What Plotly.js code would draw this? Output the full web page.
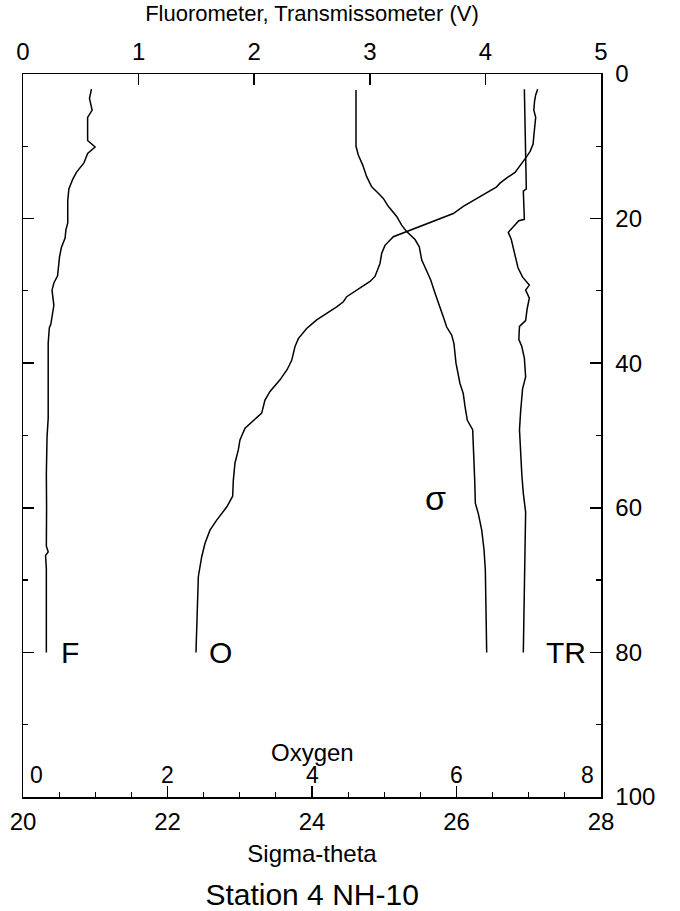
<!DOCTYPE html>
<html>
<head>
<meta charset="utf-8">
<script src="https://cdn.plot.ly/plotly-3.0.1.min.js"></script>
<style>
  html, body { margin: 0; padding: 0; background: #ffffff; }
  #chart { width: 680px; height: 911px; }
</style>
</head>
<body>
<div id="chart"></div>
<script>
// ---------- data ----------
// Fluorometer (V) vs depth (m)
const fDepth = [2.1, 3.4, 5.0, 6.0, 7.6, 9.2, 10.1, 11.0, 12.3, 13.6, 14.6, 15.9, 17.5, 20.6, 21.6, 22.7, 24.0, 25.3, 27.9, 28.9, 29.9, 32.0, 34.6, 35.1, 37.2, 42.0, 47.6, 50.2, 55.4, 60.0, 65.3, 66.1, 66.6, 68.4, 74.0, 80.0];
const fVolt  = [0.592, 0.575, 0.598, 0.559, 0.559, 0.559, 0.624, 0.559, 0.527, 0.462, 0.429, 0.397, 0.387, 0.387, 0.371, 0.364, 0.332, 0.316, 0.299, 0.267, 0.251, 0.267, 0.241, 0.228, 0.218, 0.220, 0.218, 0.208, 0.202, 0.204, 0.202, 0.218, 0.195, 0.202, 0.204, 0.202];

// Transmissometer (V) vs depth (m)
const trDepth = [2.1, 11.2, 15.9, 16.2, 18.5, 20.1, 20.3, 21.9, 22.9, 25.3, 26.8, 28.1, 28.9, 29.2, 29.9, 31.0, 32.5, 34.1, 34.9, 36.7, 37.7, 39.3, 41.9, 43.5, 46.6, 49.2, 55.4, 58.0, 60.6, 65.8, 71.0, 76.2, 80.0];
const trVolt  = [4.337, 4.344, 4.354, 4.328, 4.337, 4.337, 4.289, 4.198, 4.224, 4.256, 4.282, 4.322, 4.361, 4.380, 4.348, 4.380, 4.361, 4.348, 4.295, 4.289, 4.315, 4.337, 4.348, 4.322, 4.305, 4.295, 4.315, 4.328, 4.348, 4.341, 4.337, 4.331, 4.328];

// Oxygen vs depth (m)
const oDepth = [2.1, 2.9, 3.7, 5.0, 6.0, 7.1, 8.6, 9.7, 10.7, 11.5, 12.5, 13.6, 14.3, 15.1, 15.6, 17.0, 18.3, 19.3, 20.2, 20.9, 21.8, 22.5, 23.7, 24.8, 26.2, 28.0, 28.7, 29.6, 30.8, 31.5, 32.2, 33.1, 34.0, 35.2, 36.6, 37.7, 39.6, 40.9, 42.3, 43.9, 45.1, 46.9, 47.9, 49.0, 50.6, 52.0, 53.8, 56.2, 58.4, 59.9, 61.7, 63.1, 64.9, 66.8, 69.5, 73.2, 76.9, 80.0];
const oxygen = [7.123, 7.096, 7.081, 7.070, 7.096, 7.081, 7.070, 7.060, 7.019, 6.966, 6.888, 6.810, 6.706, 6.602, 6.556, 6.325, 6.094, 5.956, 5.726, 5.541, 5.310, 5.126, 5.010, 4.965, 4.941, 4.872, 4.803, 4.664, 4.480, 4.434, 4.342, 4.203, 4.065, 3.926, 3.811, 3.765, 3.719, 3.655, 3.557, 3.419, 3.349, 3.304, 3.188, 3.073, 3.003, 2.980, 2.934, 2.911, 2.902, 2.819, 2.681, 2.588, 2.519, 2.473, 2.427, 2.413, 2.404, 2.394];

// Sigma-theta vs depth (m)
const sDepth = [2.2, 10.0, 11.2, 12.6, 14.2, 15.6, 16.5, 17.2, 18.3, 19.7, 20.9, 21.8, 22.9, 23.9, 25.7, 27.3, 28.5, 30.3, 32.2, 33.6, 35.0, 36.1, 37.3, 40.0, 42.8, 44.2, 46.0, 47.9, 49.2, 52.5, 56.2, 59.4, 60.8, 63.1, 65.8, 68.6, 73.2, 80.0];
const sigma  = [24.609, 24.609, 24.641, 24.702, 24.757, 24.826, 24.918, 24.987, 25.056, 25.172, 25.241, 25.310, 25.426, 25.485, 25.518, 25.587, 25.643, 25.702, 25.772, 25.818, 25.864, 25.933, 25.965, 25.993, 26.048, 26.094, 26.118, 26.150, 26.224, 26.242, 26.252, 26.261, 26.302, 26.349, 26.381, 26.399, 26.408, 26.418];

// tick labels
const sigmaTicks = [20, 22, 24, 26, 28];
const voltTicks  = [0, 1, 2, 3, 4, 5];
const oxyTicks   = [0, 2, 4, 6, 8];
const depthTicks = [0, 20, 40, 60, 80, 100];

// curve labels
const curveNames = ['F', 'O', 'σ', 'TR'];

// ---------- drawing ----------
const FONT = 'Liberation Sans, Arial, Helvetica, sans-serif';
const lineStyle = {color: '#000000', width: 1.5};

const traces = [
  {x: fVolt,  y: fDepth,  xaxis: 'x2', yaxis: 'y', mode: 'lines', line: lineStyle, name: 'F'},
  {x: trVolt, y: trDepth, xaxis: 'x2', yaxis: 'y', mode: 'lines', line: lineStyle, name: 'TR'},
  {x: oxygen, y: oDepth,  xaxis: 'x3', yaxis: 'y', mode: 'lines', line: lineStyle, name: 'O'},
  {x: sigma,  y: sDepth,  xaxis: 'x',  yaxis: 'y', mode: 'lines', line: lineStyle, name: 'sigma'}
];

// label placement (axis, value along axis, depth)
const labelPlace = [
  {axis: 'x2', x: 0.41, depth: 80, size: 30},
  {axis: 'x3', x: 2.74, depth: 80, size: 30},
  {axis: 'x',  x: 25.716, depth: 58.6, size: 34},
  {axis: 'x2', x: 4.70, depth: 80, size: 30}
];

const annotations = [];
curveNames.forEach((t, i) => {
  const p = labelPlace[i];
  annotations.push({
    text: t, xref: p.axis, yref: 'y', x: p.x, y: p.depth,
    xanchor: 'center', yanchor: 'middle', showarrow: false,
    font: {family: FONT, size: p.size, color: '#000'}
  });
});
oxyTicks.forEach((v, i) => {
  annotations.push({
    text: String(v), xref: 'x3', yref: 'paper', x: v, y: 0,
    xanchor: i === 0 ? 'left' : (i === oxyTicks.length - 1 ? 'right' : 'center'),
    xshift: i === 0 ? 5 : (i === oxyTicks.length - 1 ? -5 : 0),
    yanchor: 'bottom', yshift: 7, showarrow: false,
    font: {family: FONT, size: 23, color: '#000'}
  });
});
annotations.push({
  text: 'Oxygen', xref: 'paper', yref: 'paper', x: 0.5, y: 0,
  xanchor: 'center', yanchor: 'bottom', yshift: 29, showarrow: false,
  font: {family: FONT, size: 24, color: '#000'}
});

const axBase = {
  showgrid: false, zeroline: false, showline: true, linecolor: '#000', linewidth: 1.5,
  ticks: 'inside', tickcolor: '#000', tickwidth: 1.5, ticklen: 11,
  tickfont: {family: FONT, size: 24, color: '#000'}
};

const layout = {
  width: 680, height: 911,
  margin: {l: 23, r: 79, t: 74, b: 114},
  paper_bgcolor: '#ffffff', plot_bgcolor: '#ffffff',
  font: {family: FONT, color: '#000'},
  showlegend: false,
  title: {
    text: 'Station 4 NH-10', font: {family: FONT, size: 30, color: '#000'},
    x: 0.459, xanchor: 'center', yref: 'container', y: 0.0, yanchor: 'bottom', pad: {b: 6}
  },
  xaxis: Object.assign({}, axBase, {
    range: [20, 28], side: 'bottom', tickmode: 'array', tickvals: sigmaTicks,
    ticklabelstandoff: 3,
    minor: {dtick: 0.5, ticks: 'inside', ticklen: 5, tickwidth: 1.2, tickcolor: '#000', showgrid: false},
    title: {text: 'Sigma-theta', font: {family: FONT, size: 24, color: '#000'}, standoff: 11}
  }),
  xaxis2: Object.assign({}, axBase, {
    range: [0, 5], side: 'top', overlaying: 'x', anchor: 'y', tickmode: 'array', tickvals: voltTicks,
    ticklabelstandoff: 3,
    title: {text: 'Fluorometer, Transmissometer (V)', font: {family: FONT, size: 22, color: '#000'}, standoff: 10}
  }),
  xaxis3: {range: [0, 8], overlaying: 'x', anchor: 'y', visible: false},
  yaxis: Object.assign({}, axBase, {
    range: [100, 0], side: 'right', mirror: 'ticks', tickmode: 'array', tickvals: depthTicks,
    ticklabelstandoff: 8,
    minor: {dtick: 10, ticks: 'inside', ticklen: 5, tickwidth: 1.2, tickcolor: '#000', showgrid: false}
  }),
  annotations: annotations
};

Plotly.newPlot('chart', traces, layout, {staticPlot: true, displayModeBar: false});
</script>
</body>
</html>
